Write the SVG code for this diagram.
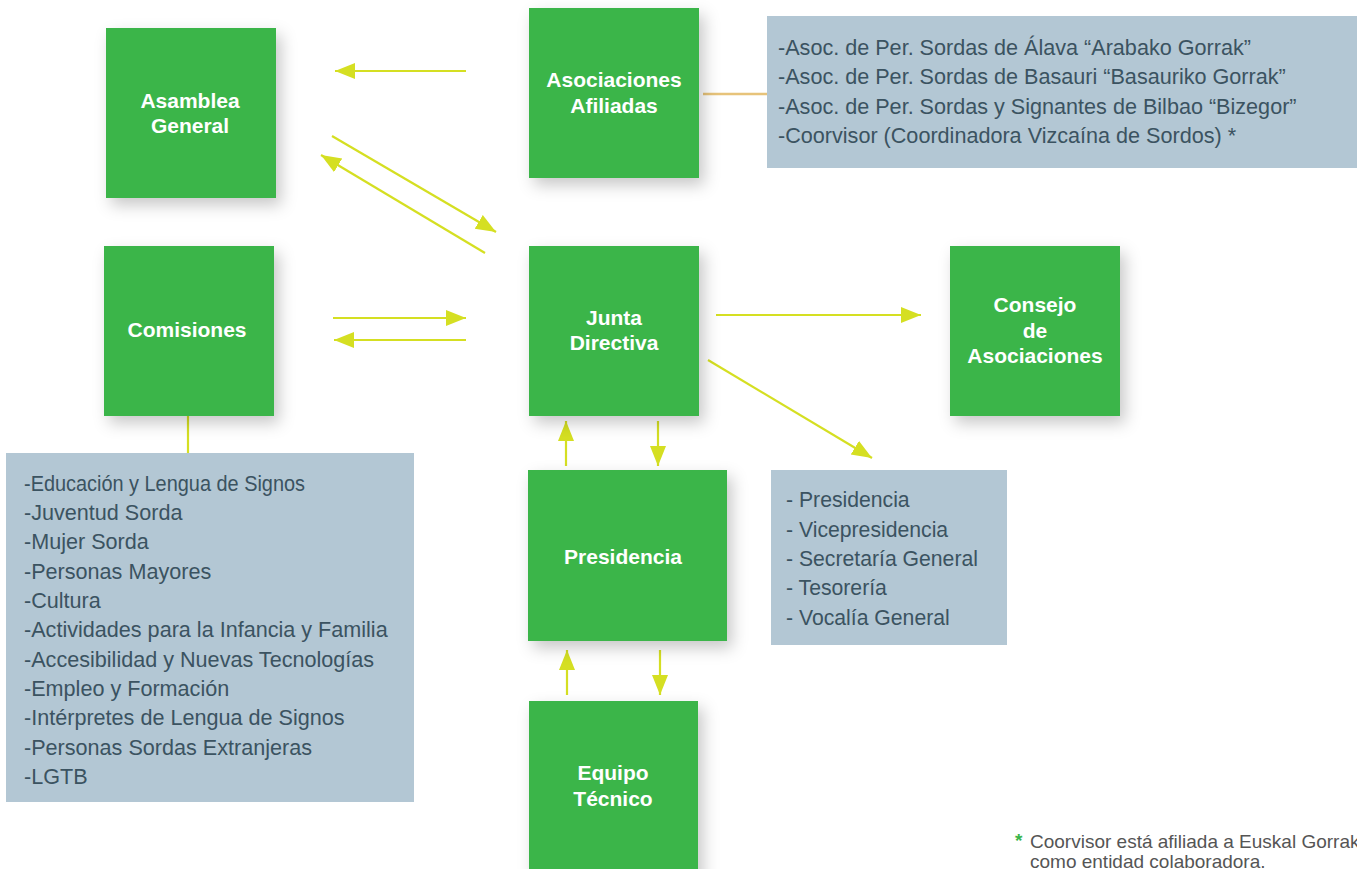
<svg xmlns="http://www.w3.org/2000/svg" width="1357" height="869" viewBox="0 0 1357 869">
<defs>
<filter id="sh" x="-30%" y="-30%" width="170%" height="170%">
<feDropShadow dx="5" dy="7" stdDeviation="8" flood-color="#000" flood-opacity="0.22"/>
</filter>
<marker id="ah" markerUnits="userSpaceOnUse" markerWidth="22" markerHeight="18" refX="20" refY="8" orient="auto">
<path d="M0,0 L20,8 L0,16 Z" fill="#d5df22"/>
</marker>
<style>
.node{fill:#3bb54a;filter:url(#sh)}
.lbl{font-family:"Liberation Sans",Arial,sans-serif;font-weight:bold;font-size:21px;fill:#fff;text-anchor:middle}
.info{fill:#b3c7d4}
.itx{font-family:"Liberation Sans",Arial,sans-serif;font-size:21.6px;fill:#3b5361}
.itx2{font-family:"Liberation Sans",Arial,sans-serif;font-size:21.2px;fill:#3b5361}
.arr{stroke:#d5df22;stroke-width:2.2;fill:none;marker-end:url(#ah)}
.ln{stroke:#d5df22;stroke-width:2.2;fill:none}
.fn{font-family:"Liberation Sans",Arial,sans-serif;font-size:19px;fill:#555}
</style>
</defs>
<rect width="1357" height="869" fill="#fff"/>

<g id="connectors">
<line class="arr" x1="466" y1="71" x2="335" y2="71"/>
<line class="arr" x1="332" y1="136" x2="496" y2="232"/>
<line class="arr" x1="485" y1="253" x2="321" y2="155"/>
<line class="arr" x1="333" y1="318" x2="466" y2="318"/>
<line class="arr" x1="466" y1="340" x2="334" y2="340"/>
<line class="arr" x1="716" y1="315" x2="921" y2="315"/>
<line class="arr" x1="708" y1="360" x2="872" y2="458"/>
<line class="arr" x1="566" y1="466" x2="566" y2="421"/>
<line class="arr" x1="658" y1="421" x2="658" y2="466"/>
<line class="arr" x1="567" y1="695" x2="567" y2="650"/>
<line class="arr" x1="660" y1="650" x2="660" y2="695"/>
<line x1="703" y1="94" x2="767" y2="94" stroke="#e7c37a" stroke-width="2.5"/>
<line class="ln" x1="188" y1="416" x2="188" y2="453"/>
</g>

<g id="asamblea">
<rect class="node" x="106" y="28" width="170" height="170"/>
<text class="lbl" x="190" y="108">Asamblea</text>
<text class="lbl" x="190" y="133">General</text>
</g>

<g id="asociaciones">
<rect class="node" x="529" y="8" width="170" height="170"/>
<text class="lbl" x="614" y="87">Asociaciones</text>
<text class="lbl" x="614" y="113">Afiliadas</text>
</g>

<g id="asociaciones-info">
<rect class="info" x="767" y="16" width="590" height="152"/>
<text class="itx" x="778" y="55">-Asoc. de Per. Sordas de Álava “Arabako Gorrak”</text>
<text class="itx" x="778" y="84">-Asoc. de Per. Sordas de Basauri “Basauriko Gorrak”</text>
<text class="itx" x="778" y="114">-Asoc. de Per. Sordas y Signantes de Bilbao “Bizegor”</text>
<text class="itx" x="778" y="143">-Coorvisor (Coordinadora Vizcaína de Sordos) *</text>
</g>

<g id="comisiones">
<rect class="node" x="104" y="246" width="170" height="170"/>
<text class="lbl" x="187" y="337">Comisiones</text>
</g>

<g id="junta">
<rect class="node" x="529" y="246" width="170" height="170"/>
<text class="lbl" x="614" y="325">Junta</text>
<text class="lbl" x="614" y="350">Directiva</text>
</g>

<g id="consejo">
<rect class="node" x="950" y="246" width="170" height="170"/>
<text class="lbl" x="1035" y="312">Consejo</text>
<text class="lbl" x="1035" y="338">de</text>
<text class="lbl" x="1035" y="363">Asociaciones</text>
</g>

<g id="comisiones-info">
<rect class="info" x="6" y="453" width="408" height="349"/>
<text class="itx" x="24" y="491" textLength="281" lengthAdjust="spacingAndGlyphs">-Educación y  Lengua de Signos</text>
<text class="itx" x="24" y="520">-Juventud Sorda</text>
<text class="itx" x="24" y="549">-Mujer Sorda</text>
<text class="itx" x="24" y="579">-Personas Mayores</text>
<text class="itx" x="24" y="608">-Cultura</text>
<text class="itx" x="24" y="637">-Actividades para la Infancia y Familia</text>
<text class="itx" x="24" y="667">-Accesibilidad y Nuevas Tecnologías</text>
<text class="itx" x="24" y="696">-Empleo y Formación</text>
<text class="itx" x="24" y="725">-Intérpretes de Lengua de Signos</text>
<text class="itx" x="24" y="755">-Personas Sordas Extranjeras</text>
<text class="itx" x="24" y="784">-LGTB</text>
</g>

<g id="presidencia">
<rect class="node" x="528" y="470" width="199" height="171"/>
<text class="lbl" x="623" y="564">Presidencia</text>
</g>

<g id="presidencia-info">
<rect class="info" x="771" y="470" width="236" height="175"/>
<text class="itx2" x="786" y="507">- Presidencia</text>
<text class="itx2" x="786" y="537">- Vicepresidencia</text>
<text class="itx2" x="786" y="566">- Secretaría General</text>
<text class="itx2" x="786" y="595">- Tesorería</text>
<text class="itx2" x="786" y="625">- Vocalía General</text>
</g>

<g id="equipo">
<rect class="node" x="529" y="701" width="169" height="180"/>
<text class="lbl" x="613" y="780">Equipo</text>
<text class="lbl" x="613" y="806">Técnico</text>
</g>

<g id="footnote">
<text class="fn" x="1015" y="847" style="fill:#3bb54a;font-weight:bold">*</text>
<text class="fn" x="1030" y="848">Coorvisor está afiliada a Euskal Gorrak</text>
<text class="fn" x="1030" y="868">como entidad colaboradora.</text>
</g>
</svg>
